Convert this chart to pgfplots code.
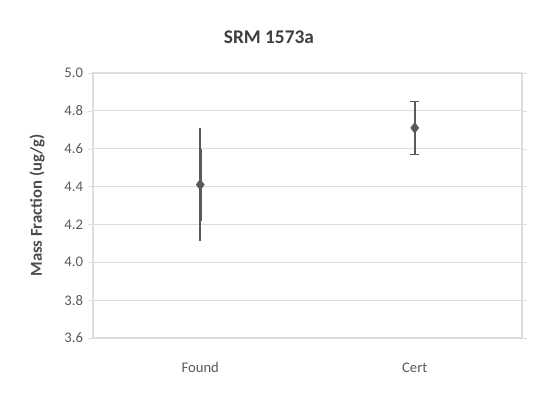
\documentclass[border=0pt]{standalone}
\usepackage{pgfplots}
\pgfplotsset{compat=1.18}
\usepackage{fontspec}
\setmainfont{Carlito}
\definecolor{txt}{HTML}{595959}
\definecolor{gridc}{HTML}{DDDDDD}
\definecolor{barc}{HTML}{5A5A5A}
\begin{document}
\begin{tikzpicture}[x=0.75pt,y=0.75pt]
\path[use as bounding box] (-93,-62) rectangle (446,338);
\begin{axis}[
  at={(0,0)}, anchor=south west,
  scale only axis, width=321.75pt, height=198.75pt,
  xmin=-0.5, xmax=1.5, ymin=3.6, ymax=5.0,
  xtick={0,1}, xticklabels={Found,Cert},
  ytick={3.6,3.8,4.0,4.2,4.4,4.6,4.8,5.0},
  major x tick style={draw=none},
  tick align=outside, major tick length=4pt,
  y tick style={gridc},
  ymajorgrids, grid style={gridc, line width=0.8pt},
  axis line style={gridc, line width=0.8pt},
  /pgf/number format/.cd, fixed, fixed zerofill, precision=1, assume math mode=true,
  /pgfplots/.cd,
  tick label style={font=\fontsize{11}{13}\selectfont, text=txt},
  xticklabel style={yshift=-11pt},
  title={SRM 1573a},
  title style={font=\bfseries\fontsize{14.5}{17}\selectfont, text=txt!70!black, at={(0.41,1)}, anchor=center, yshift=21pt},
  ylabel={Mass Fraction (ug/g)},
  ylabel style={font=\bfseries\fontsize{12.5}{15}\selectfont, text=txt!85!black, at={(axis description cs:-0.13,0.5)}, anchor=center},
  clip=false,
]
% outer (wide) error bars, no caps
\addplot[barc, only marks, mark=none,
  error bars/.cd, y dir=both, y explicit, error mark=none,
  error bar style={line width=1.3pt, barc}]
  coordinates {(0,4.41) +- (0,0.30)};
% inner error bar for Found (thicker)
\addplot[barc, only marks, mark=none,
  error bars/.cd, y dir=both, y explicit, error mark=none,
  error bar style={line width=2.0pt, barc}]
  coordinates {(0,4.41) +- (0,0.19)};
% Cert error bar with caps
\addplot[barc, only marks, mark=none,
  error bars/.cd, y dir=both, y explicit,
  error bar style={line width=1.3pt, barc},
  error mark options={rotate=90, mark size=3.5pt, line width=1.3pt, barc}]
  coordinates {(1,4.71) +- (0,0.14)};
% markers
\addplot[only marks, mark=diamond*, mark size=4pt, barc, mark options={fill=barc}]
  coordinates {(0,4.41) (1,4.71)};
\end{axis}
\end{tikzpicture}
\end{document}
